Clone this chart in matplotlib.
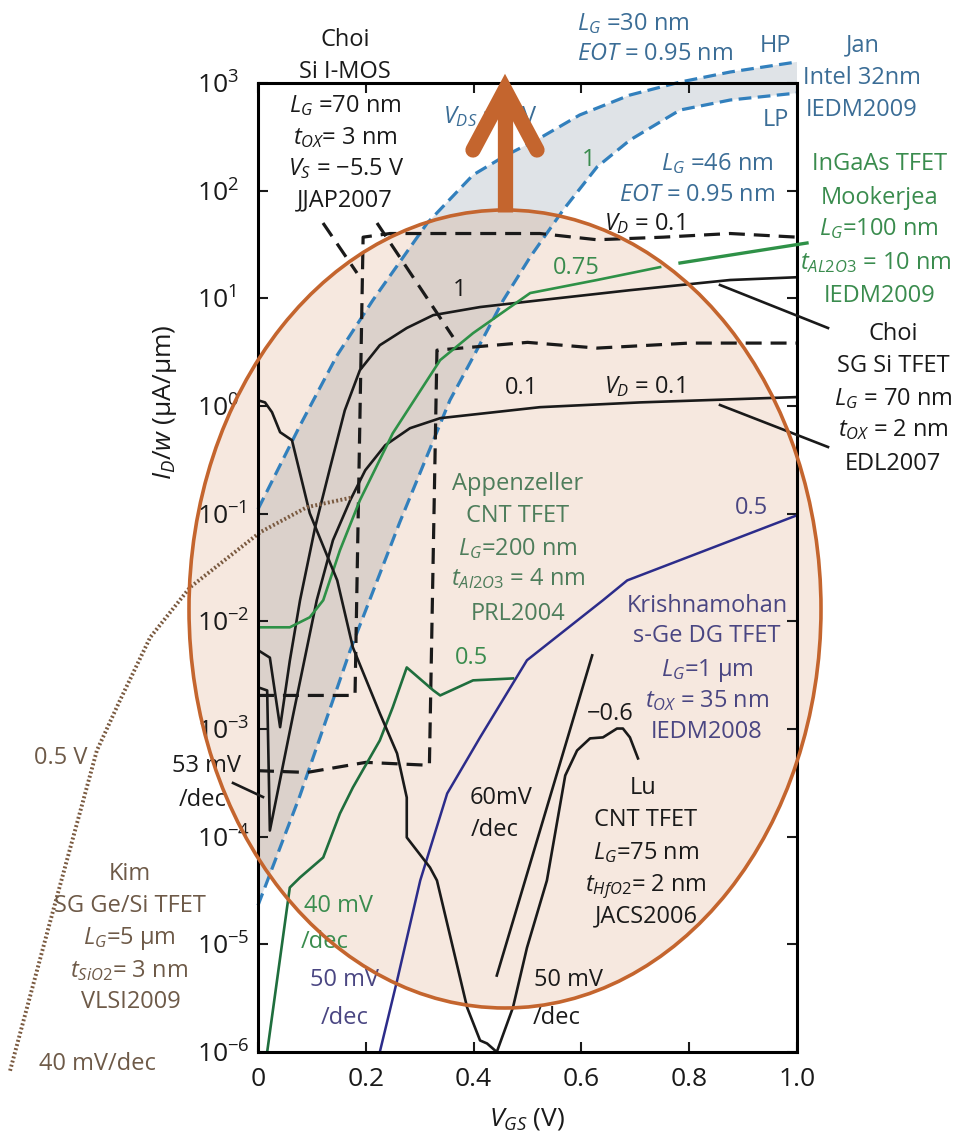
import numpy as np
import matplotlib.pyplot as plt
from matplotlib.patches import Ellipse
from matplotlib.lines import Line2D
from matplotlib.ticker import FixedLocator, NullLocator

plt.rcParams['font.family'] = ['Open Sans', 'DejaVu Sans']
plt.rcParams['mathtext.fontset'] = 'custom'
plt.rcParams['mathtext.rm'] = 'Open Sans'
plt.rcParams['mathtext.it'] = 'Open Sans:italic'
plt.rcParams['mathtext.bf'] = 'Open Sans:bold'

W, H = 965, 1136

# Intel 32 nm MOSFETs (VDS = 1 V), HP and LP
hp_v = [0.0, 0.078, 0.147, 0.213, 0.314, 0.399, 0.458, 0.523, 0.597, 0.690, 0.783, 0.876, 1.0]
hp_i = [0.11, 0.66, 2.97, 9.6, 50, 140, 210, 308, 505, 773, 1020, 1265, 1570]
lp_v = [0.0, 0.078, 0.171, 0.263, 0.356, 0.399, 0.455, 0.505, 0.566, 0.629, 0.690, 0.783, 0.876, 1.0]
lp_i = [2.3e-5, 2.42e-4, 5.37e-3, 0.0832, 1.13, 2.84, 9.6, 24.2, 66, 166, 295, 561, 695, 807]

# Choi SG Si TFET, VD = 1 and VD = 0.1
sg1_v = [0.0, 0.022, 0.041, 0.059, 0.078, 0.106, 0.134, 0.161, 0.189, 0.226, 0.276, 0.325, 0.412, 0.523, 0.690, 0.876, 1.0]
sg1_i = [5.4e-3, 4.6e-3, 1.04e-3, 4.3e-3, 0.0157, 0.0748, 0.27, 0.91, 2.15, 3.67, 5.3, 6.98, 8.3, 9.6, 11.9, 14.8, 15.7]
sg01_v = [0.0, 0.017, 0.022, 0.065, 0.109, 0.139, 0.171, 0.199, 0.236, 0.282, 0.338, 0.523, 0.709, 1.0]
sg01_i = [2.44e-3, 2.28e-3, 1.14e-4, 1.34e-3, 0.0157, 0.0566, 0.133, 0.253, 0.432, 0.622, 0.771, 0.975, 1.08, 1.21]

# Choi Si I-MOS, VD = 1 and VD = 0.1
imos1_v = [0.0, 0.18, 0.195, 0.245, 0.523, 0.629, 0.752, 0.876, 1.0]
imos1_i = [2.05e-3, 2.05e-3, 37, 40, 40, 35, 37, 40, 37]
imos01_v = [0.0, 0.091, 0.20, 0.318, 0.332, 0.50, 0.629, 0.80, 1.0]
imos01_i = [4.1e-4, 3.95e-4, 4.9e-4, 4.6e-4, 3.3, 3.9, 3.45, 3.84, 3.84]

# Mookerjea InGaAs TFET
ingaas_v = [0.0, 0.059, 0.096, 0.121, 0.152, 0.189, 0.250, 0.338, 0.399, 0.505, 0.629, 0.746]
ingaas_i = [8.8e-3, 8.8e-3, 0.0109, 0.0157, 0.0457, 0.133, 0.558, 2.67, 4.75, 11.2, 14.8, 19.5]

# Appenzeller CNT TFET
cnt_v = [0.017, 0.059, 0.078, 0.121, 0.152, 0.176, 0.226, 0.250, 0.276, 0.325, 0.338, 0.399, 0.473]
cnt_i = [1.0e-6, 3.37e-5, 4.18e-5, 6.41e-5, 1.64e-4, 2.86e-4, 7.83e-4, 1.59e-3, 3.73e-3, 2.29e-3, 2.05e-3, 2.83e-3, 2.95e-3]

# Krishnamohan s-Ge DG TFET
krish_v = [0.226, 0.258, 0.301, 0.351, 0.412, 0.499, 0.640, 0.685, 1.0]
krish_i = [1.0e-6, 4.6e-6, 3.92e-5, 2.52e-4, 8.36e-4, 4.35e-3, 0.0157, 0.0240, 0.0966]

# Lu CNT TFET (VD = -0.6)
lu_v = [0.0, 0.013, 0.026, 0.041, 0.063, 0.096, 0.147, 0.176, 0.226, 0.258, 0.276, 0.276, 0.319,
        0.332, 0.388, 0.412, 0.425, 0.443, 0.473, 0.499, 0.536, 0.570, 0.592, 0.616, 0.640, 0.666,
        0.677, 0.690, 0.705]
lu_i = [1.13, 1.08, 0.875, 0.571, 0.481, 0.101, 0.0240, 5.73e-3, 1.40e-3, 5.93e-4, 2.31e-4, 9.84e-5,
        5.18e-5, 3.92e-5, 2.59e-6, 1.28e-6, 1.20e-6, 1.0e-6, 2.59e-6, 9.3e-6, 3.92e-5, 3.7e-4,
        6.32e-4, 8.18e-4, 8.36e-4, 1.01e-3, 1.01e-3, 8.36e-4, 5.33e-4]

# 60 mV/dec reference slope
ref_v = [0.443, 0.620]
ref_i = [5.13e-6, 4.83e-3]

# Kim SG Ge/Si TFET (VD = 0.5 V)
kim_v = [-0.460, -0.386, -0.299, -0.256, -0.200, -0.126, 0.004, 0.091, 0.176]
kim_i = [6.7e-7, 1.60e-5, 6.3e-4, 1.85e-3, 7.1e-3, 0.0207, 0.0672, 0.115, 0.142]

x_ticks = [0, 0.2, 0.4, 0.6, 0.8, 1.0]
x_ticklabels = ['0', '0.2', '0.4', '0.6', '0.8', '1.0']
y_ticks = [1e-6, 1e-5, 1e-4, 1e-3, 1e-2, 1e-1, 1e0, 1e1, 1e2, 1e3]

BLACK = '#1a1a1a'
BLUE = '#3280bd'
BLUE_TXT = '#3b6d96'
GREEN = '#2e9147'
GREEN_TXT = '#3a8c4e'
DKGREEN = '#1f6e3d'
APP_TXT = '#4e7d5b'
NAVY = '#2c2c8a'
NAVY_TXT = '#4a4682'
BROWN = '#7a5a40'
BROWN_TXT = '#6e5a48'
ORANGE = '#c4652e'

fig = plt.figure(figsize=(9.65, 11.36), dpi=100)
ax = fig.add_axes([258 / W, 1 - 1052 / H, 539 / W, 969 / H])
ax.set_yscale('log')
ax.set_xlim(0, 1)
ax.set_ylim(1e-6, 1e3)

# shaded band between HP and LP
ax.fill(np.r_[hp_v, lp_v[::-1]], np.r_[hp_i, lp_i[::-1]], color='#dfe3e7', lw=0,
        zorder=1, clip_on=False)

# translucent highlight ellipse
ell_c, ell_w, ell_h = (505 / W, 1 - 609 / H), 632 / W, 798 / H
ax.add_patch(Ellipse(ell_c, ell_w, ell_h, transform=fig.transFigure, facecolor='#c8743c',
                     alpha=0.16, lw=0, zorder=1.5, clip_on=False))

ax.plot(hp_v, hp_i, color=BLUE, lw=2.3, dashes=(4, 2), zorder=3, clip_on=False)
ax.plot(lp_v, lp_i, color=BLUE, lw=2.3, dashes=(4, 2), zorder=3, clip_on=False)
ax.plot(imos1_v, imos1_i, color=BLACK, lw=2.3, dashes=(5, 2.8), zorder=3)
ax.plot(imos01_v, imos01_i, color=BLACK, lw=2.3, dashes=(5, 2.8), zorder=3)
ax.plot(sg1_v, sg1_i, color=BLACK, lw=1.9, zorder=3)
ax.plot(sg01_v, sg01_i, color=BLACK, lw=1.9, zorder=3)
ax.plot(ingaas_v, ingaas_i, color=GREEN, lw=1.9, zorder=3)
ax.plot(cnt_v, cnt_i, color=DKGREEN, lw=1.9, zorder=3)
ax.plot(krish_v, krish_i, color=NAVY, lw=1.8, zorder=3)
ax.plot(lu_v, lu_i, color=BLACK, lw=1.9, zorder=3)
ax.plot(ref_v, ref_i, color=BLACK, lw=1.9, zorder=3)
ax.plot(kim_v, kim_i, color=BROWN, lw=2.8, linestyle=(0, (0.5, 0.6)), zorder=3, clip_on=False)

# axes frame and ticks
for s in ax.spines.values():
    s.set_linewidth(2.2)
    s.set_zorder(4)
ax.xaxis.set_major_locator(FixedLocator(x_ticks))
ax.set_xticklabels(x_ticklabels)
ax.yaxis.set_major_locator(FixedLocator(y_ticks))
ax.xaxis.set_minor_locator(NullLocator())
ax.yaxis.set_minor_locator(NullLocator())
ax.tick_params(which='major', direction='in', top=True, right=True, length=7, width=1.5,
               labelsize=19, color=BLACK, labelcolor=BLACK)
ax.tick_params(axis='x', pad=11)
ax.tick_params(axis='y', pad=44)
plt.setp(ax.yaxis.get_majorticklabels(), ha='left')

fig.text(165 / W, 1 - 402 / H, r'$I_D/w$ (µA/µm)', rotation=90, ha='center', va='center',
         fontsize=19, color=BLACK)
fig.text(527 / W, 1 - 1119 / H, r'$V_{GS}$ (V)', ha='center', va='center', fontsize=19,
         color=BLACK)


def put(x, y, s, color, size=17, ha='center'):
    fig.text(x / W, 1 - (y + 0.36 * size * 100 / 72) / H, s, ha=ha, va='baseline',
             fontsize=size, color=color, zorder=5)


def pointer(p0, p1, color, dashed=False, lw=1.9):
    ln = Line2D([p0[0] / W, p1[0] / W], [1 - p0[1] / H, 1 - p1[1] / H], transform=fig.transFigure,
                color=color, lw=lw, zorder=4)
    if dashed:
        ln.set_dashes((5, 2.8))
    fig.add_artist(ln)


# Choi Si I-MOS
put(345, 38, 'Choi', BLACK)
put(345, 70, 'Si I-MOS', BLACK)
put(345, 104, r'$L_G$ =70 nm', BLACK)
put(345, 136, r'$t_{OX}$= 3 nm', BLACK)
put(346, 167, r'$V_S$ = −5.5 V', BLACK)
put(345, 198, 'JJAP2007', BLACK)
pointer((323, 223), (357, 273), BLACK, dashed=True, lw=2.3)
pointer((377, 223), (453, 337), BLACK, dashed=True, lw=2.3)
put(644, 222, r'$V_D$ = 0.1', BLACK)

# Intel 32 nm
put(577, 22, r'$L_G$ =30 nm', BLUE_TXT, ha='left')
put(577, 52, r'$EOT$ = 0.95 nm', BLUE_TXT, ha='left')
put(775, 43, 'HP', BLUE_TXT)
put(776, 118, 'LP', BLUE_TXT)
put(863, 43, 'Jan', BLUE_TXT)
put(862, 75, 'Intel 32nm', BLUE_TXT)
put(862, 107, 'IEDM2009', BLUE_TXT)
put(773, 162, r'$L_G$ =46 nm', BLUE_TXT, ha='right')
put(775, 192, r'$EOT$ = 0.95 nm', BLUE_TXT, ha='right')
put(443, 115, r'$V_{DS}$ = 1 V', BLUE_TXT, ha='left')

# Mookerjea InGaAs
put(589, 157, '1', GREEN_TXT)
put(576, 265, '0.75', GREEN_TXT)
put(880, 162, 'InGaAs TFET', GREEN_TXT)
put(880, 195, 'Mookerjea', GREEN_TXT)
put(879, 227, r'$L_G$=100 nm', GREEN_TXT)
put(876, 261, r'$t_{AL2O3}$ = 10 nm', GREEN_TXT)
put(880, 293, 'IEDM2009', GREEN_TXT)
pointer((680, 263), (807, 243), GREEN, lw=2.4)

# Choi SG Si TFET
put(460, 287, '1', BLACK)
put(522, 385, '0.1', BLACK)
put(644, 385, r'$V_D$ = 0.1', BLACK)
put(893, 332, 'Choi', BLACK)
put(893, 364, 'SG Si TFET', BLACK)
put(893, 397, r'$L_G$ = 70 nm', BLACK)
put(893, 428, r'$t_{OX}$ = 2 nm', BLACK)
put(893, 461, 'EDL2007', BLACK)
pointer((720, 285), (828, 328), BLACK)
pointer((720, 405), (828, 447), BLACK)
put(206, 764, '53 mV', BLACK)
put(203, 797, '/dec', BLACK)
pointer((233, 783), (263, 797), BLACK)

# Appenzeller CNT
put(518, 482, 'Appenzeller', APP_TXT)
put(518, 514, 'CNT TFET', APP_TXT)
put(518, 547, r'$L_G$=200 nm', APP_TXT)
put(518, 577, r'$t_{Al2O3}$ = 4 nm', APP_TXT)
put(518, 612, 'PRL2004', APP_TXT)
put(472, 655, '0.5', GREEN_TXT)
put(338, 903, '40 mV', GREEN_TXT)
put(325, 940, '/dec', GREEN_TXT)

# Krishnamohan
put(752, 505, '0.5', NAVY_TXT)
put(707, 603, 'Krishnamohan', NAVY_TXT)
put(707, 633, 's-Ge DG TFET', NAVY_TXT)
put(707, 667, r'$L_G$=1 µm', NAVY_TXT)
put(707, 699, r'$t_{OX}$ = 35 nm', NAVY_TXT)
put(707, 730, 'IEDM2008', NAVY_TXT)
put(345, 977, '50 mV', NAVY_TXT)
put(345, 1015, '/dec', NAVY_TXT)

# Lu CNT
put(610, 712, '−0.6', BLACK)
put(643, 785, 'Lu', BLACK)
put(646, 818, 'CNT TFET', BLACK)
put(646, 851, r'$L_G$=75 nm', BLACK)
put(646, 883, r'$t_{HfO2}$= 2 nm', BLACK)
put(646, 914, 'JACS2006', BLACK)
put(568, 977, '50 mV', BLACK)
put(557, 1015, '/dec', BLACK)
put(501, 796, '60mV', BLACK)
put(495, 828, '/dec', BLACK)

# Kim
put(61, 755, '0.5 V', BROWN_TXT)
put(130, 872, 'Kim', BROWN_TXT)
put(130, 904, 'SG Ge/Si TFET', BROWN_TXT)
put(129, 936, r'$L_G$=5 µm', BROWN_TXT)
put(129, 969, r'$t_{SiO2}$= 3 nm', BROWN_TXT)
put(131, 999, 'VLSI2009', BROWN_TXT)
put(97, 1061, '40 mV/dec', BROWN_TXT)

# ellipse outline and arrow on top
fig.add_artist(Ellipse(ell_c, ell_w, ell_h, transform=fig.transFigure, fill=False,
                       edgecolor=ORANGE, lw=2.6, zorder=6))
fig.add_artist(Line2D([505 / W, 505 / W], [1 - 212 / H, 1 - 95 / H], transform=fig.transFigure,
                      color=ORANGE, lw=11, solid_capstyle='butt', zorder=7))
fig.add_artist(Line2D([473 / W, 505 / W, 537 / W], [1 - 150 / H, 1 - 90 / H, 1 - 150 / H],
                      transform=fig.transFigure, color=ORANGE, lw=11, solid_capstyle='round',
                      solid_joinstyle='miter', zorder=7))

fig.savefig('out.png', dpi=100)
